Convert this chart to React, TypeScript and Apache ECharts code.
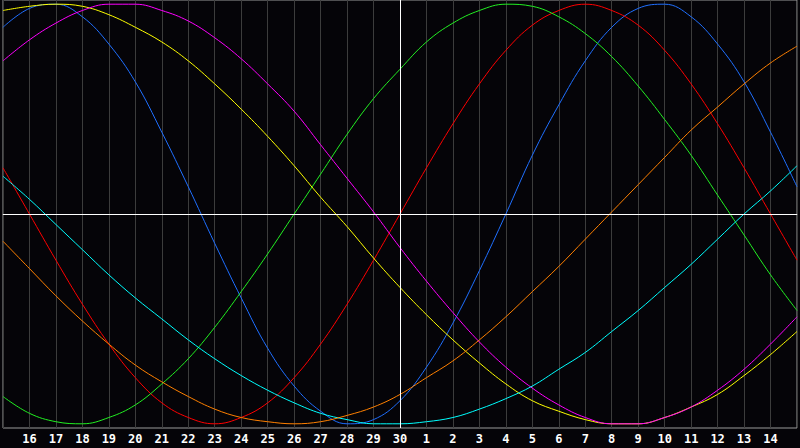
import React, { useEffect, useRef } from 'react'
import * as echarts from 'echarts'

// x positions: day 15 of the previous month to day 15 of this month
const dayLabels = [
    '15', '16', '17', '18', '19', '20', '21', '22', '23', '24', '25', '26', '27', '28', '29', '30',
    '1', '2', '3', '4', '5', '6', '7', '8', '9', '10', '11', '12', '13', '14', '15',
]

// values, one per day
const blueValues = [
    0.89, 0.98, 1.0, 0.94, 0.81, 0.63, 0.39, 0.13, -0.14, -0.4, -0.64, -0.82, -0.94, -1.0, -0.98, -0.89,
    -0.73, -0.52, -0.27, 0.0, 0.28, 0.52, 0.73, 0.89, 0.98, 1.0, 0.94, 0.81, 0.63, 0.39, 0.13,
]
const redValues = [
    0.22, 0.0, -0.22, -0.43, -0.62, -0.78, -0.9, -0.97, -1.0, -0.97, -0.9, -0.78, -0.62, -0.43, -0.22, 0.0,
    0.22, 0.43, 0.62, 0.78, 0.9, 0.97, 1.0, 0.97, 0.9, 0.78, 0.62, 0.43, 0.22, 0.0, -0.22,
]
const greenValues = [
    -0.87, -0.95, -0.99, -1.0, -0.97, -0.91, -0.81, -0.69, -0.54, -0.37, -0.19, 0.0, 0.19, 0.38, 0.55, 0.69,
    0.82, 0.91, 0.97, 1.0, 0.99, 0.94, 0.86, 0.75, 0.61, 0.45, 0.28, 0.09, -0.1, -0.29, -0.46,
]
const yellowValues = [
    0.97, 0.99, 1.0, 0.99, 0.95, 0.89, 0.82, 0.73, 0.62, 0.5, 0.37, 0.23, 0.08, -0.06, -0.21, -0.35,
    -0.48, -0.6, -0.71, -0.81, -0.89, -0.94, -0.98, -1.0, -1.0, -0.97, -0.92, -0.86, -0.77, -0.67, -0.56,
]
const magentaValues = [
    0.73, 0.83, 0.91, 0.97, 1.0, 1.0, 0.97, 0.92, 0.84, 0.74, 0.62, 0.49, 0.33, 0.17, 0.01, -0.16,
    -0.32, -0.47, -0.61, -0.73, -0.83, -0.91, -0.97, -1.0, -1.0, -0.97, -0.92, -0.84, -0.74, -0.62, -0.49,
]
const cyanValues = [
    0.18, 0.07, -0.05, -0.17, -0.29, -0.4, -0.5, -0.6, -0.69, -0.77, -0.84, -0.9, -0.95, -0.98, -1.0, -1.0,
    -0.99, -0.97, -0.93, -0.88, -0.82, -0.74, -0.66, -0.56, -0.46, -0.35, -0.24, -0.12, 0.0, 0.11, 0.23,
]
const orangeValues = [
    -0.13, -0.26, -0.39, -0.51, -0.62, -0.72, -0.8, -0.87, -0.93, -0.97, -0.99, -1.0, -0.99, -0.96, -0.92, -0.86,
    -0.78, -0.7, -0.6, -0.49, -0.37, -0.25, -0.12, 0.01, 0.14, 0.27, 0.4, 0.51, 0.62, 0.72, 0.8,
]

const lines = [
    { name: 'blue', color: '#1f6fff', data: blueValues },
    { name: 'red', color: '#ff0000', data: redValues },
    { name: 'green', color: '#22f022', data: greenValues },
    { name: 'yellow', color: '#ffff00', data: yellowValues },
    { name: 'magenta', color: '#ff00ff', data: magentaValues },
    { name: 'cyan', color: '#00ffff', data: cyanValues },
    { name: 'orange', color: '#ff8000', data: orangeValues },
]

const App: React.FC = () => {
    const chartRef = useRef<HTMLDivElement | null>(null)

    useEffect(() => {
        if (!chartRef.current) return
        const chart = echarts.init(chartRef.current, null, { renderer: 'svg' })

        chart.setOption({
            animation: false,
            backgroundColor: '#050408',
            grid: {
                left: 0,
                right: 1,
                top: 0,
                bottom: 20,
                show: true,
                borderColor: '#9a9a9a',
                borderWidth: 1,
            },
            xAxis: {
                type: 'category',
                data: dayLabels,
                boundaryGap: false,
                axisLine: { lineStyle: { color: '#9a9a9a' } },
                axisTick: { show: false },
                splitLine: { show: true, lineStyle: { color: '#3c3c3c', width: 1 } },
                axisLabel: {
                    interval: 0,
                    margin: 5,
                    color: '#ffffff',
                    fontFamily: 'DejaVu Sans Mono',
                    fontWeight: 'bold',
                    fontSize: 12,
                    formatter: (v: string, i: number) => (i === 0 || i === dayLabels.length - 1 ? '' : v),
                },
            },
            yAxis: {
                type: 'value',
                min: -1.02,
                max: 1.02,
                axisLine: { show: false },
                axisTick: { show: false },
                axisLabel: { show: false },
                splitLine: { show: false },
            },
            series: lines.map((l, idx) => ({
                name: l.name,
                type: 'line',
                data: l.data,
                smooth: 0.4,
                symbol: 'none',
                lineStyle: { color: l.color, width: 1 },
                markLine: idx === 0 ? {
                    silent: true,
                    symbol: 'none',
                    label: { show: false },
                    lineStyle: { color: '#ffffff', type: 'solid', width: 1 },
                    data: [{ yAxis: 0 }, { xAxis: 15 }],
                } : undefined,
            })),
        })

        return () => {
            chart.dispose()
        }
    }, [])

    return <div ref={chartRef} style={{ position: 'fixed', left: 0, top: 0, width: 800, height: 448 }} />
}

export default App
